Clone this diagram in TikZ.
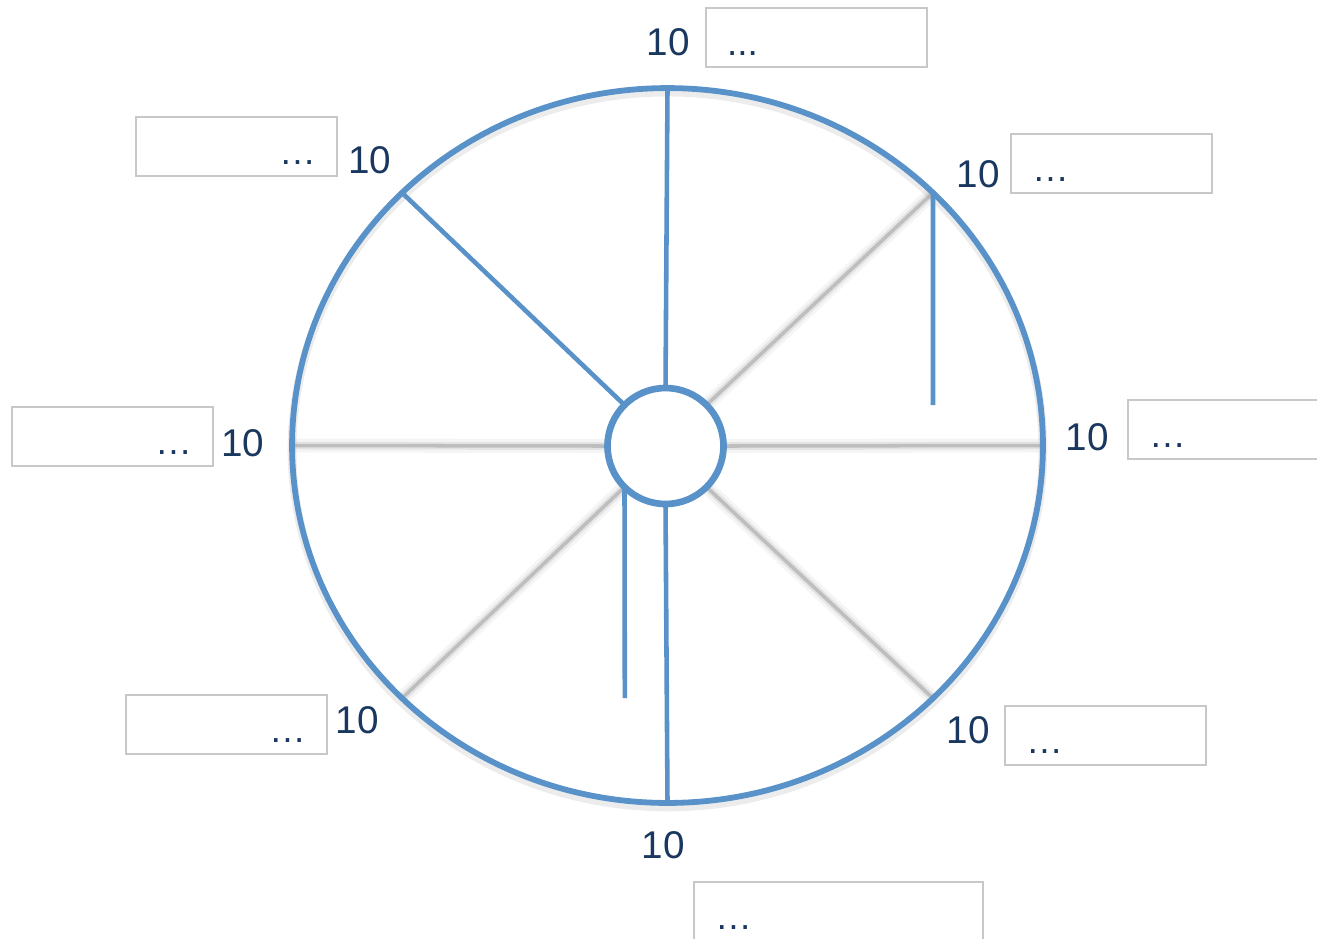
\documentclass[tikz,border=0pt]{standalone}
\usepackage{fontspec}
\setmainfont{Liberation Sans}
\usetikzlibrary{shapes.geometric,backgrounds}

\definecolor{wheelblue}{RGB}{89,146,201}
\definecolor{numnavy}{RGB}{25,55,95}
\definecolor{boxgray}{RGB}{200,200,200}

\tikzset{
  num/.style={text=numnavy, font=\fontsize{22}{26}\selectfont, inner sep=0pt},
  slot/.style={draw=boxgray, line width=1.1pt, minimum height=1.18cm, inner xsep=0.42cm, inner ysep=0pt,
    text height=21pt, text depth=0pt, text width=#1, text=numnavy, font=\fontsize{21}{25}\selectfont},
  slot/.default=3.18cm,
  spoke/.style={draw=wheelblue, line width=2.6pt},
  shadowspoke/.style={draw=gray!80, line width=2pt, opacity=.5,
    preaction={draw=gray, opacity=.08, line width=8pt},
    preaction={draw=gray, opacity=.15, line width=4.5pt}}
}

\begin{document}
\begin{tikzpicture}[x=0.02cm,y=-0.02cm]
  \useasboundingbox (0,0) rectangle (1317,938);

  % Wheel
  \node[ellipse, draw=wheelblue, line width=3.3pt, minimum width=15.02cm, minimum height=14.3cm,
    inner sep=0pt, outer sep=0pt] (rim) at (667.5,445.5) {};
  \node[circle, draw=wheelblue, fill=white, line width=3.8pt, minimum size=2.32cm,
    inner sep=0pt, outer sep=0pt] (hub) at (665.5,446) {};

  % Shadowed spokes
  \begin{scope}[on background layer]
    \draw[gray, opacity=.15, line width=5pt] ([yshift=-0.08cm]rim.center) ellipse [x radius=7.51cm, y radius=7.15cm];
    \foreach \a in {east, north east, south east, south west, west}
      \draw[shadowspoke] (hub.\a) -- (rim.\a);
  \end{scope}

  % Blue spokes
  \coordinate (tail1) at (933,405);
  \coordinate (tail2) at (624.8,698);
  \draw[spoke] (hub.north) -- (rim.north);
  \draw[spoke] (hub.north west) -- (rim.north west);
  \draw[spoke] (hub.south) -- (rim.south);
  \draw[spoke] (rim.north east) -- (tail1);
  \draw[spoke] (hub.south west) -- (tail2);

  % Values
  \node[num] (v1) at (668,42) {10};
  \node[num] (v2) at (978,174) {10};
  \node[num] (v3) at (1087,437) {10};
  \node[num] (v4) at (968,730) {10};
  \node[num] (v5) at (663,845) {10};
  \node[num] (v6) at (357,720) {10};
  \node[num] (v7) at (243,443) {10};
  \node[num] (v8) at (370,160) {10};

  % Boxes
  \node[slot=3.58cm, align=left] (s1) at (816.5,37.5) {...};
  \node[slot, align=left] (s2) at (1111.5,163.5) {…};
  \node[slot, align=left] (s3) at (1228.5,429.5) {…};
  \node[slot, align=left] (s4) at (1105.5,735.5) {…};
  \node[slot=4.94cm, align=left] (s5) at (838.5,911.5) {…};
  \node[slot, align=right] (s6) at (226.5,724.5) {…};
  \node[slot, align=right] (s7) at (112.5,436.5) {…};
  \node[slot, align=right] (s8) at (236.5,146.5) {…};
\end{tikzpicture}
\end{document}
